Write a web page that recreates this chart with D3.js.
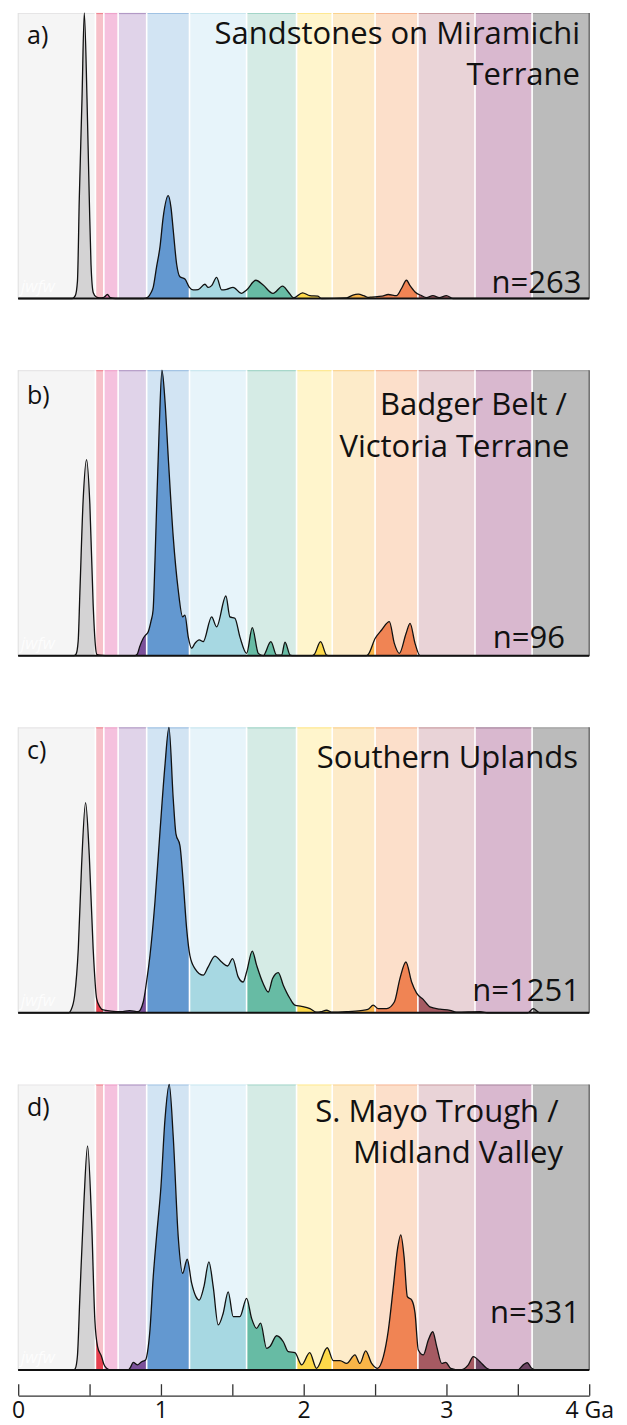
<!DOCTYPE html>
<html lang="en">
  <head>
    <meta charset="utf-8">
    <title>Detrital zircon age spectra</title>
    <style>
      body { margin: 0; background: white; }
      svg { display: block; font-family: "Open Sans", sans-serif; }
    </style>
    <script src="https://cdn.jsdelivr.net/npm/d3@7"></script>
  </head>
  <body>
    <svg id="chart" width="627" height="1425"></svg>
    <script>

// ---- data ------------------------------------------------------------
// age band edges (Ga) and their colours: pale background / saturated fill
var bandEdges = [0, 0.541, 0.6, 0.7, 0.9, 1.2, 1.6, 1.95, 2.2, 2.5, 2.8, 3.2, 3.6, 4.0];
var bandLight = ["#f5f5f5", "#f7c0c9", "#f5c1de", "#e0d3e9", "#d2e4f3", "#e7f4fa", "#d5ebe5",
                 "#fff5cc", "#fdebc9", "#fcdfca", "#e9d3d7", "#d9b8cf", "#bbbbbb"];
var bandDark  = ["#d4d3d4", "#e6404f", "#e77fb3", "#7b519a", "#6398d0", "#a7d8e2", "#67bba4",
                 "#fdd94a", "#f9b548", "#f08454", "#a55a62", "#6d4563", "#7d7d7d"];

var panelLetters = ["a)", "b)", "c)", "d)"];
var panelTitles = [["Sandstones on Miramichi", "Terrane"],
                   ["Badger Belt /", "Victoria Terrane"],
                   ["Southern Uplands"],
                   ["S. Mayo Trough /", "Midland Valley"]];
var panelCounts = ["n=263", "n=96", "n=1251", "n=331"];

// KDE curves: [age Ga, relative density]
var kdeA = [[0,0],[0.38,0],[0.40,0.01],[0.415,0.06],[0.428,0.35],[0.447,0.70],[0.463,1.0],[0.482,0.70],
  [0.498,0.35],[0.51,0.12],[0.526,0.02],[0.545,0.006],[0.57,0.002],[0.60,0.004],[0.625,0.014],[0.645,0.003],
  [0.68,0],[0.88,0],[0.91,0.005],[0.93,0.02],[0.946,0.04],[0.969,0.11],[0.993,0.18],[1.016,0.286],[1.051,0.36],
  [1.07,0.32],[1.086,0.24],[1.11,0.12],[1.133,0.076],[1.168,0.068],[1.198,0.04],[1.226,0.03],[1.261,0.031],
  [1.308,0.05],[1.331,0.039],[1.355,0.045],[1.39,0.074],[1.425,0.03],[1.46,0.032],[1.505,0.039],[1.565,0.018],
  [1.60,0.03],[1.665,0.064],[1.716,0.047],[1.785,0.018],[1.852,0.043],[1.892,0.023],[1.931,0.002],[1.992,0.02],
  [2.043,0.01],[2.10,0.008],[2.125,0],[2.30,0.002],[2.345,0.012],[2.382,0.015],[2.42,0.01],[2.45,0.004],
  [2.475,0.005],[2.55,0.008],[2.592,0.014],[2.65,0.01],[2.685,0.035],[2.72,0.064],[2.745,0.045],[2.78,0.023],
  [2.825,0.01],[2.86,0.003],[2.905,0.01],[2.95,0.003],[3.0,0.01],[3.045,0],[4,0]];

var kdeB = [[0,0],[0.39,0],[0.405,0.005],[0.42,0.05],[0.432,0.22],[0.455,0.545],[0.479,0.687],[0.502,0.53],
  [0.525,0.18],[0.54,0.04],[0.55,0.005],[0.57,0.002],[0.65,0],[0.82,0],[0.834,0.005],[0.85,0.03],[0.875,0.06],
  [0.892,0.072],[0.911,0.084],[0.93,0.12],[0.945,0.16],[0.958,0.33],[0.969,0.51],[0.988,0.80],[1.007,1.0],
  [1.028,0.894],[1.051,0.696],[1.086,0.416],[1.121,0.23],[1.152,0.136],[1.168,0.142],[1.191,0.066],[1.215,0.026],
  [1.238,0.043],[1.268,0.055],[1.296,0.049],[1.355,0.136],[1.39,0.101],[1.455,0.209],[1.483,0.136],[1.518,0.131],
  [1.553,0.066],[1.60,0.008],[1.64,0.098],[1.682,0.008],[1.716,0],[1.77,0.049],[1.81,0.002],[1.845,0.002],
  [1.869,0.047],[1.905,0.002],[1.93,0],[2.06,0],[2.075,0.005],[2.118,0.049],[2.16,0.002],[2.18,0],[2.44,0],
  [2.453,0.005],[2.5,0.06],[2.546,0.09],[2.6,0.119],[2.635,0.043],[2.67,0.008],[2.717,0.078],[2.745,0.113],
  [2.78,0.043],[2.815,0],[4,0]];

var kdeC = [[0,0],[0.355,0],[0.37,0.01],[0.395,0.06],[0.421,0.225],[0.444,0.516],[0.472,0.736],[0.498,0.551],
  [0.525,0.225],[0.549,0.051],[0.572,0.021],[0.595,0.01],[0.65,0.006],[0.72,0.004],[0.78,0.008],[0.84,0.004],
  [0.876,0.038],[0.899,0.108],[0.923,0.2],[0.958,0.388],[0.993,0.633],[1.028,0.866],[1.056,1.0],[1.086,0.75],
  [1.105,0.627],[1.133,0.586],[1.156,0.458],[1.18,0.295],[1.203,0.2],[1.238,0.155],[1.296,0.132],[1.331,0.161],
  [1.378,0.199],[1.425,0.178],[1.467,0.164],[1.502,0.19],[1.541,0.126],[1.576,0.108],[1.60,0.143],[1.64,0.216],
  [1.67,0.167],[1.716,0.103],[1.752,0.073],[1.782,0.12],[1.822,0.141],[1.857,0.097],[1.903,0.051],[1.938,0.027],
  [1.985,0.023],[2.044,0.015],[2.09,0.002],[2.12,0.004],[2.16,0.009],[2.2,0.002],[2.3,0.004],[2.4,0.008],
  [2.45,0.012],[2.487,0.027],[2.522,0.015],[2.581,0.015],[2.635,0.038],[2.674,0.12],[2.716,0.178],[2.756,0.108],
  [2.791,0.069],[2.837,0.047],[2.884,0.021],[2.954,0.013],[3.025,0.009],[3.07,0.002],[3.235,0.004],[3.3,0],
  [3.57,0],[3.608,0.015],[3.655,0],[4,0]];

var kdeD = [[0,0],[0.39,0],[0.40,0.005],[0.415,0.05],[0.432,0.257],[0.46,0.584],[0.486,0.785],[0.514,0.525],
  [0.537,0.175],[0.556,0.082],[0.584,0.047],[0.60,0.02],[0.619,0.006],[0.65,0],[0.77,0],[0.785,0.008],
  [0.806,0.027],[0.834,0.018],[0.865,0.029],[0.892,0.035],[0.905,0.06],[0.923,0.14],[0.946,0.327],[0.969,0.467],
  [1.0,0.642],[1.028,0.876],[1.058,1.0],[1.086,0.817],[1.121,0.467],[1.152,0.339],[1.184,0.388],[1.215,0.304],
  [1.245,0.257],[1.268,0.245],[1.301,0.292],[1.336,0.379],[1.366,0.292],[1.401,0.158],[1.436,0.199],[1.471,0.274],
  [1.506,0.187],[1.553,0.187],[1.60,0.251],[1.635,0.181],[1.67,0.146],[1.698,0.164],[1.74,0.076],[1.763,0.082],
  [1.81,0.12],[1.857,0.099],[1.892,0.064],[1.938,0.061],[1.986,0.018],[2.042,0.061],[2.09,0.006],[2.165,0.078],
  [2.207,0.033],[2.254,0.033],[2.301,0.023],[2.359,0.053],[2.394,0.023],[2.434,0.067],[2.476,0.023],
  [2.516,0.006],[2.558,0.047],[2.593,0.14],[2.628,0.292],[2.656,0.42],[2.68,0.473],[2.703,0.397],[2.726,0.257],
  [2.757,0.245],[2.78,0.199],[2.803,0.07],[2.838,0.053],[2.873,0.105],[2.904,0.134],[2.932,0.082],[2.967,0.023],
  [2.995,0.027],[3.03,0.006],[3.095,0],[3.153,0.018],[3.188,0.047],[3.235,0.029],[3.282,0.006],[3.32,0],
  [3.5,0],[3.538,0.018],[3.566,0.026],[3.597,0.006],[3.632,0],[4,0]];

var kdes = [kdeA, kdeB, kdeC, kdeD];

var tickValues = [0, 0.5, 1, 1.5, 2, 2.5, 3, 3.5, 4];
var tickLabels = ["0", "", "1", "", "2", "", "3", "", "4 Ga"];
// -----------------------------------------------------------------------

// text placement per panel (offsets from the panel top)
var layout = [
  {titleX: [580, 580],   titleY: [30.5, 72],   countX: 581.5, countY: 280,   letterY: 31},
  {titleX: [567, 569.5], titleY: [45, 86.7],   countX: 565,   countY: 278,   letterY: 34},
  {titleX: [578],        titleY: [41],         countX: 580,   countY: 274,   letterY: 32},
  {titleX: [558.5, 563], titleY: [37.2, 78.8], countX: 580,   countY: 238.5, letterY: 31.5}
];

var svg = d3.select('#chart');
var panelH = 285.5, panelStep = 357.17, firstTop = 13;

var x = d3.scaleLinear().domain([0, 4]).range([18.2, 589.2]);
var y = d3.scaleLinear().domain([0, 1]).range([panelH, 0]);

var bands = d3.range(bandEdges.length - 1).map(function(i) {
  return {i: i, x0: bandEdges[i], x1: bandEdges[i + 1]};
});

// one clip path per age band, shared by all panels
var defs = svg.append('defs');
defs.selectAll('clipPath').data(bands).enter()
  .append('clipPath').attr('id', function(d) { return 'band' + d.i; })
  .append('rect')
    .attr('x', function(d) { return x(d.x0); })
    .attr('width', function(d) { return x(d.x1) - x(d.x0); })
    .attr('y', -20).attr('height', panelH + 40);

var area = d3.area()
  .x(function(d) { return x(d[0]); })
  .y0(y(0))
  .y1(function(d) { return y(d[1]); })
  .curve(d3.curveMonotoneX);
var line = d3.line()
  .x(function(d) { return x(d[0]); })
  .y(function(d) { return y(d[1]); })
  .curve(d3.curveMonotoneX);

kdes.forEach(function(kde, p) {
  var g = svg.append('g').attr('transform', 'translate(0,' + (firstTop + p * panelStep) + ')');
  var L = layout[p];

  // pale background bands + thin coloured top edge
  g.selectAll('rect.bg').data(bands).enter().append('rect')
    .attr('class', 'bg')
    .attr('x', function(d) { return x(d.x0); })
    .attr('width', function(d) { return x(d.x1) - x(d.x0); })
    .attr('y', 0).attr('height', panelH)
    .style('fill', function(d) { return bandLight[d.i]; });
  g.selectAll('line.top').data(bands).enter().append('line')
    .attr('class', 'top')
    .attr('x1', function(d) { return x(d.x0); })
    .attr('x2', function(d) { return x(d.x1); })
    .attr('y1', 0.5).attr('y2', 0.5)
    .style('stroke', function(d) { return bandDark[d.i]; })
    .style('stroke-opacity', 0.45).style('stroke-width', 1.2);

  // watermark
  g.append('text').attr('x', 21).attr('y', panelH - 7)
    .text('jwfw')
    .style('font-size', '17px').style('font-style', 'italic')
    .style('fill', 'white').style('opacity', 0.8);

  // density filled per band
  g.selectAll('path.fill').data(bands).enter().append('path')
    .attr('class', 'fill')
    .attr('d', area(kde))
    .attr('clip-path', function(d) { return 'url(#band' + d.i + ')'; })
    .style('fill', function(d) { return bandDark[d.i]; });

  // white separators between bands
  g.selectAll('line.sep').data(bandEdges.slice(1, -1)).enter().append('line')
    .attr('class', 'sep')
    .attr('x1', function(d) { return x(d); }).attr('x2', function(d) { return x(d); })
    .attr('y1', 0).attr('y2', panelH)
    .style('stroke', 'white').style('stroke-width', 1.6);

  // left / right frame
  g.append('line').attr('x1', x(0)).attr('x2', x(0)).attr('y1', 0).attr('y2', panelH)
    .style('stroke', '#dedede').style('stroke-width', 1);
  g.append('line').attr('x1', x(4)).attr('x2', x(4)).attr('y1', 0).attr('y2', panelH)
    .style('stroke', '#555').style('stroke-width', 1.2);

  // curve outline and baseline
  g.append('path').attr('d', line(kde))
    .style('fill', 'none').style('stroke', '#111').style('stroke-width', 1.3)
    .style('stroke-linejoin', 'round');
  g.append('line').attr('x1', x(0)).attr('x2', x(4)).attr('y1', panelH).attr('y2', panelH)
    .style('stroke', '#111').style('stroke-width', 2);

  // labels
  g.append('text').attr('x', 27).attr('y', L.letterY)
    .text(panelLetters[p]).style('font-size', '25px').style('fill', '#111');
  g.selectAll('text.title').data(panelTitles[p]).enter().append('text')
    .attr('class', 'title')
    .attr('x', function(d, k) { return L.titleX[k]; })
    .attr('y', function(d, k) { return L.titleY[k]; })
    .attr('text-anchor', 'end')
    .text(function(d) { return d; })
    .style('font-size', '31px').style('fill', '#111');
  g.append('text').attr('x', L.countX).attr('y', L.countY)
    .attr('text-anchor', 'end')
    .text(panelCounts[p]).style('font-size', '31px').style('fill', '#111');
});

// age axis: ticks pointing up, labels below (kept inside the page)
var axis = d3.axisBottom(x)
  .tickValues(tickValues)
  .tickFormat(function(d, i) { return tickLabels[i]; })
  .tickSizeInner(-11.5).tickSizeOuter(0).tickPadding(6);
var ax = svg.append('g').attr('transform', 'translate(0,1395.7)').call(axis);
ax.select('.domain').style('stroke', '#333').style('stroke-width', 1.3);
ax.selectAll('.tick line').style('stroke', '#333').style('stroke-width', 1.3);
ax.selectAll('.tick text').style('font-family', '"Open Sans", sans-serif')
  .style('font-size', '23px').style('fill', '#111');

    </script>
  </body>
</html>
